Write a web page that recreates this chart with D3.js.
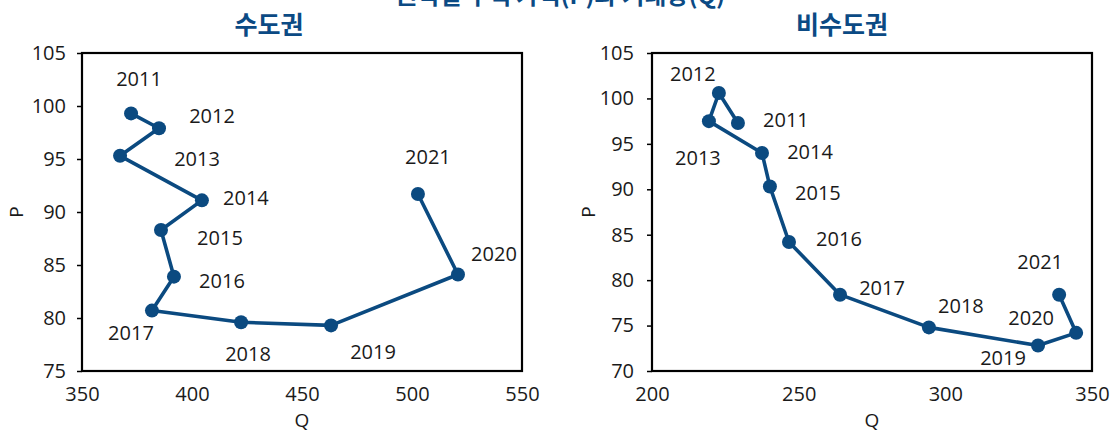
<!DOCTYPE html>
<html>
<head>
<meta charset="utf-8" />
<title>수도권 / 비수도권</title>
<script src="https://cdn.jsdelivr.net/npm/d3@7"></script>
<style>
    body { margin: 0; background: #fff; }
    svg text { font-family: "Open Sans", "Noto Sans", sans-serif; fill: #1a1a1a; }
    .ttl { font-family: "Noto Sans CJK KR", sans-serif; font-weight: 700; fill: #0b4a84; }
</style>
</head>
<body>
<svg id="chart" width="1117" height="432"></svg>
<script>
// data: years + Q / P per region
var years = ["2011","2012","2013","2014","2015","2016","2017","2018","2019","2020","2021"];

var metroQ = [372.3, 385.0, 367.3, 404.5, 385.9, 391.8, 381.8, 422.3, 463.2, 520.9, 502.7];
var metroP = [99.3, 97.9, 95.3, 91.1, 88.3, 83.9, 80.7, 79.6, 79.3, 84.1, 91.7];

var nonMetroQ = [229.3, 222.8, 219.4, 237.5, 240.2, 246.7, 264.1, 294.4, 331.6, 344.6, 338.8];
var nonMetroP = [97.3, 100.6, 97.5, 94.0, 90.3, 84.2, 78.4, 74.8, 72.8, 74.2, 78.4];

var metroXTicks = [350, 400, 450, 500, 550];
var metroYTicks = [75, 80, 85, 90, 95, 100, 105];
var nonMetroXTicks = [200, 250, 300, 350];
var nonMetroYTicks = [70, 75, 80, 85, 90, 95, 100, 105];

// label offsets (px) from each point, by year
var metroLabelOff = [[8,-34],[53,-12],[77,3],[44,-2],[59,8],[48,4],[-21,22],[7,32],[42,27],[36,-21],[10,-37]];
var nonMetroLabelOff = [[48,-3],[-26,-19],[-11,37],[48,-1],[48,6],[50,-3],[42,-7],[32,-21],[-35,12],[-45,-15],[-19,-33]];

var svg = d3.select("#chart");
var lineColor = "#0b4a80";

// main title, cut off at the very top like in the source
svg.append("text").attr("class", "ttl")
    .attr("x", 560).attr("y", 4)
    .attr("text-anchor", "middle")
    .style("font-size", "24px")
    .text("권역별 주택 가격(P)과 거래량(Q)");

function drawPanel(opt) {
    var x = d3.scaleLinear().domain(opt.xDomain).range([opt.left, opt.right]);
    var y = d3.scaleLinear().domain(opt.yDomain).range([opt.bottom, opt.top]);
    var g = svg.append("g");

    g.append("text").attr("class", "ttl")
        .attr("x", opt.titleX).attr("y", 34)
        .attr("text-anchor", "middle")
        .style("font-size", "25px")
        .text(opt.title);

    // y axis
    var yAxis = g.append("g")
        .attr("transform", "translate(" + opt.left + ",0)")
        .call(d3.axisLeft(y).tickValues(opt.yTicks).tickSize(5).tickPadding(opt.yPad));
    yAxis.select(".domain").remove();
    yAxis.selectAll("line").attr("stroke", "#000").attr("stroke-width", 1.5);
    yAxis.selectAll("text").style("font-size", "20px").attr("fill", "#1a1a1a")
        .attr("font-family", null);

    // x axis
    var xAxis = g.append("g")
        .attr("transform", "translate(0," + opt.bottom + ")")
        .call(d3.axisBottom(x).tickValues(opt.xTicks).tickSize(0).tickPadding(16));
    xAxis.select(".domain").remove();
    xAxis.selectAll("text").style("font-size", "20px").attr("fill", "#1a1a1a")
        .attr("font-family", null);

    // frame
    g.append("rect")
        .attr("x", opt.left).attr("y", opt.top)
        .attr("width", opt.right - opt.left).attr("height", opt.bottom - opt.top)
        .attr("fill", "none").attr("stroke", "#000").attr("stroke-width", 2.2);

    // axis titles
    g.append("text")
        .attr("transform", "translate(" + opt.pX + "," + ((opt.top + opt.bottom) / 2) + ") rotate(-90)")
        .attr("text-anchor", "middle")
        .style("font-size", "19px")
        .text("P");
    g.append("text")
        .attr("x", (opt.left + opt.right) / 2).attr("y", 427)
        .attr("text-anchor", "middle")
        .style("font-size", "19px")
        .text("Q");

    var pts = years.map(function(yr, i) {
        return { year: yr, q: opt.q[i], p: opt.p[i], off: opt.off[i] };
    });

    var line = d3.line().x(function(d) { return x(d.q); }).y(function(d) { return y(d.p); });

    g.append("path").datum(pts)
        .attr("d", line)
        .attr("fill", "none")
        .attr("stroke", lineColor)
        .attr("stroke-width", 3.6)
        .attr("stroke-linejoin", "round");

    g.selectAll("circle.pt").data(pts).enter().append("circle")
        .attr("class", "pt")
        .attr("cx", function(d) { return x(d.q); })
        .attr("cy", function(d) { return y(d.p); })
        .attr("r", 7)
        .attr("fill", lineColor);

    g.selectAll("text.lbl").data(pts).enter().append("text")
        .attr("class", "lbl")
        .attr("x", function(d) { return x(d.q) + d.off[0]; })
        .attr("y", function(d) { return y(d.p) + d.off[1]; })
        .attr("dy", "0.35em")
        .attr("text-anchor", "middle")
        .style("font-size", "20px")
        .text(function(d) { return d.year; });
}

drawPanel({
    title: "수도권", titleX: 269,
    left: 82, right: 522, top: 53, bottom: 371,
    xDomain: [350, 550], yDomain: [75, 105],
    xTicks: metroXTicks, yTicks: metroYTicks, yPad: 11,
    q: metroQ, p: metroP, off: metroLabelOff, pX: 23
});

drawPanel({
    title: "비수도권", titleX: 842,
    left: 652, right: 1092, top: 53, bottom: 371,
    xDomain: [200, 350], yDomain: [70, 105],
    xTicks: nonMetroXTicks, yTicks: nonMetroYTicks, yPad: 13,
    q: nonMetroQ, p: nonMetroP, off: nonMetroLabelOff, pX: 595
});
</script>
</body>
</html>
